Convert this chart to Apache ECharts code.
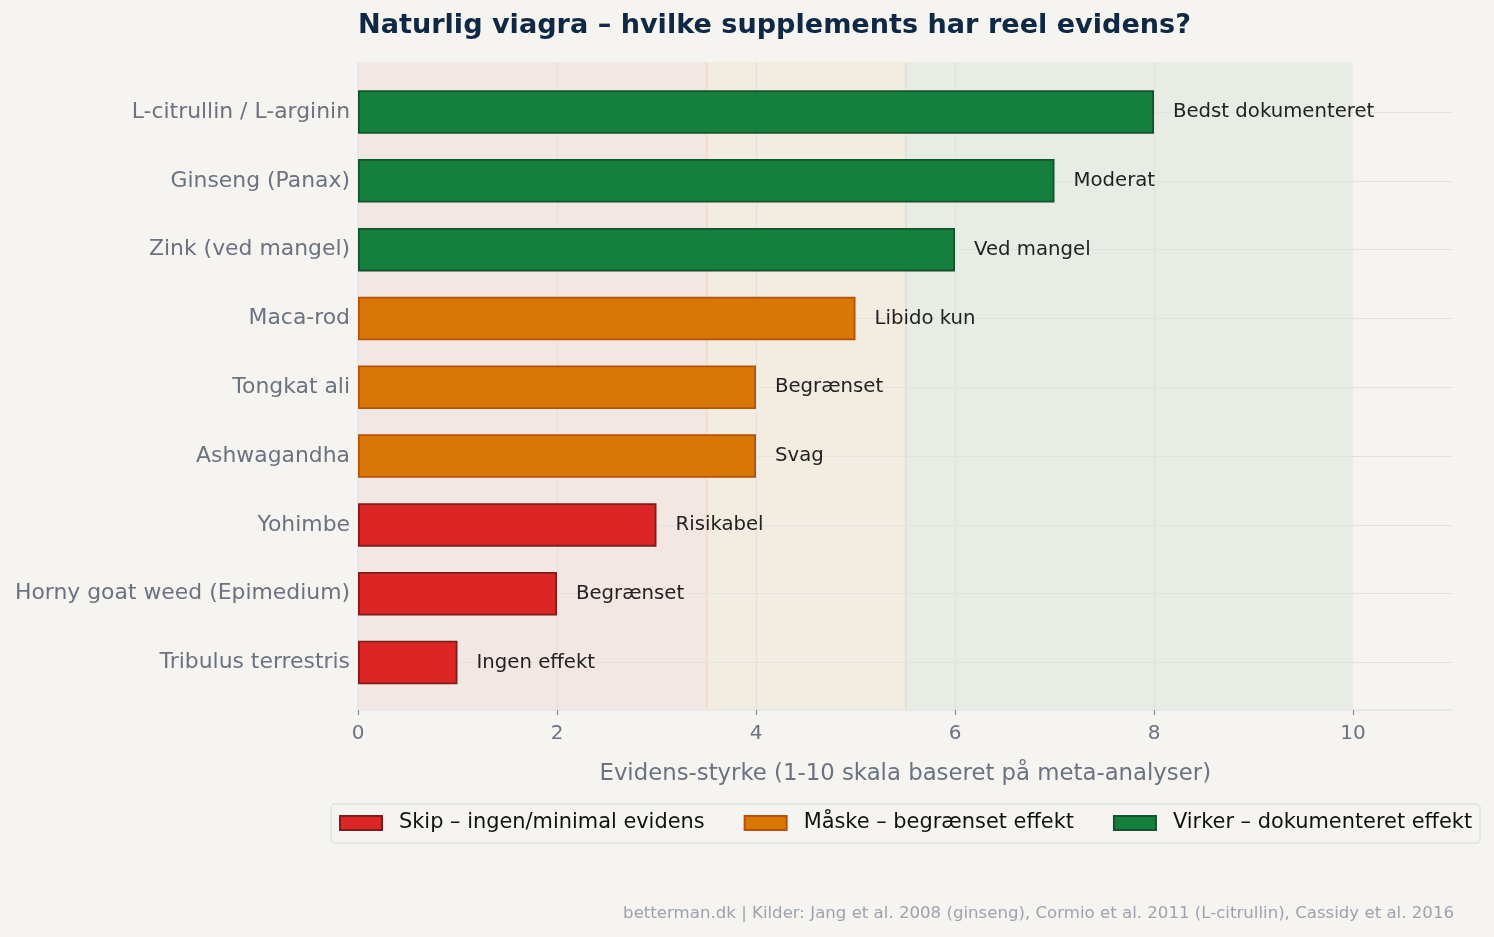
<!DOCTYPE html>
<html>
<head>
<meta charset="utf-8">
<script src="https://cdn.jsdelivr.net/npm/echarts@6/dist/echarts.min.js"></script>
<style>
  html, body { margin: 0; padding: 0; background: #f5f4f0; }
  #chart { width: 1494px; height: 937px; }
</style>
</head>
<body>
<div id="chart"></div>
<script>
// data, top to bottom
var supplements = ['L-citrullin / L-arginin', 'Ginseng (Panax)', 'Zink (ved mangel)', 'Maca-rod', 'Tongkat ali', 'Ashwagandha', 'Yohimbe', 'Horny goat weed (Epimedium)', 'Tribulus terrestris']
var scores = [8, 7, 6, 5, 4, 4, 3, 2, 1]
var groups = ['virker', 'virker', 'virker', 'maaske', 'maaske', 'maaske', 'skip', 'skip', 'skip']
var notes = ['Bedst dokumenteret', 'Moderat', 'Ved mangel', 'Libido kun', 'Begrænset', 'Svag', 'Risikabel', 'Begrænset', 'Ingen effekt']
var xTicks = [0, 2, 4, 6, 8, 10]

var groupKeys = ['skip', 'maaske', 'virker']
var groupNames = ['Skip – ingen/minimal evidens', 'Måske – begrænset effekt', 'Virker – dokumenteret effekt']
var zoneFrom = [0, 3.5, 5.5]
var zoneTo = [3.5, 5.5, 10]

var fills = { skip: '#dc2626', maaske: '#d97706', virker: '#15803d' }
var edges = { skip: '#7f1d1d', maaske: '#b45309', virker: '#14532d' }
var zoneFills = { skip: 'rgba(220,38,38,0.06)', maaske: 'rgba(217,119,6,0.06)', virker: 'rgba(21,128,61,0.06)' }

var font = 'DejaVu Sans'
var chart = echarts.init(document.getElementById('chart'))

var barSeries = groupKeys.map(function (key, i) {
  return {
    name: groupNames[i],
    type: 'bar',
    xAxisIndex: 1,
    yAxisIndex: 1,
    stack: 'total',
    barWidth: 43.5,
    clip: false,
    itemStyle: { color: fills[key], borderColor: edges[key], borderWidth: 1.8 },
    label: {
      show: true,
      position: 'right',
      distance: 19,
      color: '#222222',
      fontFamily: font,
      fontSize: 19.7,
      formatter: function (p) { return notes[p.dataIndex] }
    },
    data: scores.map(function (v, j) { return groups[j] === key ? v : '-' })
  }
})

var zoneSeries = {
  type: 'line',
  xAxisIndex: 0,
  yAxisIndex: 0,
  data: [],
  z: -1,
  silent: true,
  markArea: {
    silent: true,
    z: -1,
    data: groupKeys.map(function (key, i) {
      return [{ xAxis: zoneFrom[i], itemStyle: { color: zoneFills[key] } }, { xAxis: zoneTo[i] }]
    })
  },
  markLine: {
    silent: true,
    symbol: 'none',
    label: { show: false },
    z: -1,
    data: [
      { xAxis: zoneFrom[1], lineStyle: { color: 'rgba(217,119,6,0.14)', width: 1.5, type: 'solid' } },
      { xAxis: zoneFrom[2], lineStyle: { color: 'rgba(120,130,80,0.12)', width: 1.5, type: 'solid' } }
    ]
  }
}

chart.setOption({
  backgroundColor: '#f5f4f0',
  animation: false,
  textStyle: { fontFamily: font },
  title: [
    {
      text: 'Naturlig viagra – hvilke supplements har reel evidens?',
      left: 353,
      top: 7,
      textStyle: { color: '#0f2944', fontSize: 27.1, fontWeight: 'bold', fontFamily: font }
    },
    {
      text: 'betterman.dk | Kilder: Jang et al. 2008 (ginseng), Cormio et al. 2011 (L-citrullin), Cassidy et al. 2016',
      right: 40,
      top: 905,
      padding: 0,
      textStyle: { color: '#9ca3af', fontSize: 16.6, fontWeight: 'normal', fontFamily: font }
    }
  ],
  legend: {
    data: groupNames,
    left: 331,
    top: 804,
    width: 1160,
    padding: [7, 8, 8, 8],
    itemGap: 39,
    itemWidth: 42,
    itemHeight: 14,
    icon: 'rect',
    backgroundColor: '#f5f4f0',
    borderColor: '#dfe1e5',
    borderWidth: 1.5,
    borderRadius: 4,
    textStyle: { color: '#111111', fontSize: 20.9, fontFamily: font, padding: [2, 0, 0, 12], lineHeight: 22 }
  },
  grid: [
    { left: 358, right: 41.5, top: 62, bottom: 227 },
    { left: 358, right: 41.5, top: 112, bottom: 274.5 }
  ],
  xAxis: [
    {
      gridIndex: 0,
      type: 'value',
      min: 0,
      max: 11,
      interval: 2,
      name: 'Evidens-styrke (1-10 skala baseret på meta-analyser)',
      nameLocation: 'middle',
      nameGap: 53,
      nameTextStyle: { color: '#6b7280', fontSize: 22.8, fontFamily: font },
      axisLine: { show: true, lineStyle: { color: '#e2e4e8', width: 1.5 } },
      axisTick: { show: true, length: 5, customValues: xTicks, lineStyle: { color: '#8a8f99', width: 1.2 } },
      axisLabel: { color: '#6b7280', fontSize: 20, margin: 14, fontFamily: font, customValues: xTicks },
      splitLine: { show: true, showMinLine: false, showMaxLine: false, lineStyle: { color: '#e3e1dc', width: 1.2 } }
    },
    {
      gridIndex: 1,
      type: 'value',
      min: 0,
      max: 11,
      show: false
    }
  ],
  yAxis: [
    {
      gridIndex: 0,
      type: 'value',
      min: 0,
      max: 1,
      axisLine: { show: true, lineStyle: { color: '#e2e4e8', width: 1.5 } },
      axisTick: { show: false },
      axisLabel: { show: false },
      splitLine: { show: false }
    },
    {
      gridIndex: 1,
      type: 'category',
      inverse: true,
      boundaryGap: false,
      data: supplements,
      axisLine: { show: false },
      axisTick: { show: false },
      axisLabel: { color: '#6b7280', fontSize: 21.9, margin: 8, fontFamily: font },
      splitLine: { show: true, lineStyle: { color: '#e4e2dd', width: 1.2 } }
    }
  ],
  series: [zoneSeries].concat(barSeries)
})
</script>
</body>
</html>
